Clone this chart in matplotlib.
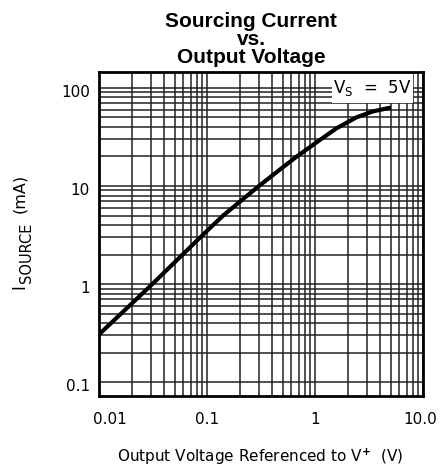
import matplotlib
matplotlib.use("Agg")
import matplotlib.pyplot as plt
import matplotlib.transforms as mtransforms
from matplotlib.patches import Rectangle
from matplotlib.ticker import FixedLocator, NullFormatter

# Data
v_out = [0.01, 0.03, 0.09, 0.14, 0.3, 0.5, 0.67, 1.1, 1.57, 2.4, 3.4, 5.0]
i_source = [0.31, 0.97, 3.15, 5.0, 10.0, 15.5, 19.9, 29.4, 38.7, 50.0, 57.5, 63.0]

x_ticks = [0.01, 0.1, 1, 10]
x_ticklabels = ["0.01", "0.1", "1", "10.0"]
y_ticks = [0.1, 1, 10, 100]
y_ticklabels = ["0.1", "1", "10", "100"]

W, H = 440, 475
fig = plt.figure(figsize=(4.4, 4.75), dpi=100)
ax = fig.add_axes([0.226, 0.167, 0.736, 0.682])
ax.set_xscale("log")
ax.set_yscale("log")
ax.set_xlim(0.01, 10)
ax.set_ylim(0.073, 146)

ax.set_xticks(x_ticks)
ax.set_xticklabels(x_ticklabels)
ax.set_yticks(y_ticks)
ax.set_yticklabels(y_ticklabels)

xminor = [d * m for d in [0.01, 0.1, 1] for m in range(2, 10)]
yminor = [d * m for d in [0.1, 1, 10] for m in range(2, 10)]
ax.xaxis.set_minor_locator(FixedLocator(xminor))
ax.yaxis.set_minor_locator(FixedLocator(yminor))
ax.xaxis.set_minor_formatter(NullFormatter())
ax.yaxis.set_minor_formatter(NullFormatter())

ax.tick_params(which="both", length=0)
ax.tick_params(axis="x", pad=12, labelsize=11)
ax.tick_params(axis="y", pad=7, labelsize=11)

ax.set_axisbelow(True)
ax.grid(True, which="both", color="#222222", linewidth=1.1)
for s in ax.spines.values():
    s.set_linewidth(2)
    s.set_color("black")
    s.set_zorder(5)

labels = ax.get_xticklabels()
offs = {0: 10, 3: -3}
for i, lab in enumerate(labels):
    if i in offs:
        lab.set_transform(lab.get_transform() + mtransforms.ScaledTranslation(offs[i] / 100, 0, fig.dpi_scale_trans))
for lab in ax.get_yticklabels():
    lab.set_transform(lab.get_transform() + mtransforms.ScaledTranslation(0, -3 / 100, fig.dpi_scale_trans))

# white box for V_S label
ax.add_patch(Rectangle((0.717, 0.902), 0.25, 0.098, transform=ax.transAxes,
                       facecolor="white", edgecolor="none", zorder=2))
ax.text(0.841, 0.951, r"$\mathrm{V_S}$  =  5V", transform=ax.transAxes,
        ha="center", va="center", fontsize=12, zorder=3)

ax.plot(v_out, i_source, color="black", linewidth=3, zorder=4, solid_capstyle="butt")

# title, three lines
for txt, yb in [("Sourcing Current", 27), ("vs.", 45), ("Output Voltage", 63)]:
    fig.text(251 / W, 1 - yb / H, txt, ha="center", va="baseline",
             fontsize=15, fontweight="bold", family="Liberation Sans")

# y label composed of pieces (rotated)
fig.text(19 / W, 1 - 289 / H, "I", rotation=90, ha="center", va="bottom", fontsize=12)
fig.text(26 / W, 1 - 283 / H, "SOURCE", rotation=90, ha="center", va="bottom", fontsize=10.5)
fig.text(20 / W, 1 - 213 / H, "(mA)", rotation=90, ha="center", va="bottom", fontsize=11.5)

fig.text(260.5 / W, 1 - 457 / H, r"Output Voltage Referenced to V$^{\mathbf{+}}$  (V)", ha="center",
         va="center", fontsize=11)

fig.savefig("out.png", dpi=100)
